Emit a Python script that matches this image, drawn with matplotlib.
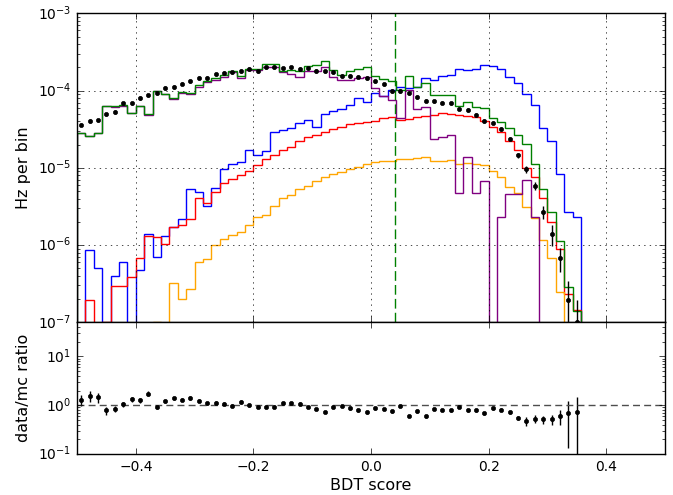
import numpy as np
import matplotlib
matplotlib.use("Agg")
import matplotlib.pyplot as plt

plt.style.use('classic')
plt.rcParams['font.family'] = ['DejaVu Sans']
plt.rcParams['figure.facecolor'] = 'white'
plt.rcParams['savefig.facecolor'] = 'white'
plt.rcParams['xtick.labelsize'] = 10
plt.rcParams['ytick.labelsize'] = 10
plt.rcParams['axes.labelsize'] = 11.5

# 70 bins of BDT score between -0.5 and 0.5
nbins = 70
edges = np.linspace(-0.5, 0.5, nbins + 1)
centers = 0.5 * (edges[:-1] + edges[1:])

# total mc (green)
total_mc = [2.79e-5, 2.57e-5, 2.82e-5, 6.35e-5, 6.22e-5, 6.41e-5, 5.15e-5, 6.35e-5, 5.01e-5, 1.00e-4,
            9.00e-5, 8.05e-5, 9.44e-5, 9.27e-5, 1.175e-4, 1.337e-4, 1.435e-4, 1.585e-4, 1.766e-4, 1.55e-4,
            1.93e-4, 1.93e-4, 2.18e-4, 2.18e-4, 1.78e-4, 1.84e-4, 1.78e-4, 2.10e-4, 2.15e-4, 2.43e-4,
            1.87e-4, 1.58e-4, 1.78e-4, 1.93e-4, 2.03e-4, 1.53e-4, 1.43e-4, 1.32e-4, 1.02e-4, 1.54e-4,
            1.10e-4, 1.24e-4, 8.73e-5, 8.73e-5, 8.73e-5, 6.28e-5, 7.14e-5, 6.04e-5, 5.86e-5, 4.44e-5,
            3.94e-5, 3.30e-5, 2.65e-5, 2.03e-5, 1.12e-5, 5.25e-6, 2.70e-6, 1.14e-6, 2.83e-7, 1.40e-7,
            0, 0, 0, 0, 0, 0, 0, 0, 0, 0]

# purple component
purple_mc = [2.79e-5, 2.55e-5, 2.82e-5, 6.34e-5, 6.19e-5, 6.38e-5, 5.11e-5, 6.28e-5, 4.88e-5, 9.87e-5,
             8.90e-5, 7.85e-5, 9.24e-5, 9.03e-5, 1.128e-4, 1.295e-4, 1.377e-4, 1.51e-4, 1.73e-4, 1.46e-4,
             1.84e-4, 1.87e-4, 2.03e-4, 2.00e-4, 1.73e-4, 1.63e-4, 1.51e-4, 1.80e-4, 1.78e-4, 2.03e-4,
             1.51e-4, 1.39e-4, 1.36e-4, 1.45e-4, 1.51e-4, 1.064e-4, 8.51e-5, 7.52e-5, 4.37e-5, 1.014e-4,
             5.70e-5, 6.17e-5, 2.34e-5, 2.52e-5, 2.63e-5, 4.67e-6, 1.39e-5, 4.67e-6, 6.81e-6, 0,
             2.33e-6, 4.53e-6, 4.53e-6, 6.93e-6, 2.28e-6, 0, 0, 0, 0, 0,
             0, 0, 0, 0, 0, 0, 0, 0, 0, 0]

# blue (signal)
blue_mc = [0, 8.63e-7, 5.01e-7, 0, 4.02e-7, 6.10e-7, 0, 4.75e-7, 1.40e-6, 6.93e-7,
           1.32e-6, 1.73e-6, 2.17e-6, 5.36e-6, 4.85e-6, 3.20e-6, 5.47e-6, 9.53e-6, 1.117e-5, 1.197e-5,
           1.68e-5, 1.476e-5, 1.63e-5, 2.93e-5, 3.05e-5, 3.24e-5, 3.75e-5, 4.14e-5, 3.40e-5, 5.01e-5,
           5.47e-5, 5.69e-5, 6.41e-5, 8.05e-5, 7.16e-5, 9.35e-5, 8.51e-5, 1.014e-4, 1.10e-4, 1.064e-4,
           1.10e-4, 1.435e-4, 1.365e-4, 1.55e-4, 1.61e-4, 1.875e-4, 1.84e-4, 1.875e-4, 2.17e-4, 2.09e-4,
           1.93e-4, 1.51e-4, 1.236e-4, 9.00e-5, 6.55e-5, 3.29e-5, 2.21e-5, 8.20e-6, 2.65e-6, 2.33e-6,
           0, 0, 0, 0, 0, 0, 0, 0, 0, 0]

# red component
red_mc = [0, 1.93e-7, 0, 1.02e-7, 2.98e-7, 2.95e-7, 3.90e-7, 6.73e-7, 1.30e-6, 1.28e-6,
          1.03e-6, 1.71e-6, 1.82e-6, 2.17e-6, 4.06e-6, 3.50e-6, 4.85e-6, 6.31e-6, 7.23e-6, 7.98e-6,
          9.00e-6, 1.074e-5, 1.285e-5, 1.445e-5, 1.694e-5, 1.837e-5, 2.24e-5, 2.52e-5, 2.68e-5, 2.90e-5,
          3.14e-5, 3.40e-5, 3.68e-5, 3.83e-5, 3.91e-5, 4.03e-5, 4.37e-5, 4.49e-5, 4.14e-5, 4.23e-5,
          4.49e-5, 4.68e-5, 4.86e-5, 5.06e-5, 4.95e-5, 4.81e-5, 4.68e-5, 4.49e-5, 4.03e-5, 3.40e-5,
          2.93e-5, 2.24e-5, 1.69e-5, 9.80e-6, 7.50e-6, 4.02e-6, 2.00e-6, 8.80e-7, 2.33e-7, 1.45e-7,
          0, 0, 0, 0, 0, 0, 0, 0, 0, 0]

# orange component
orange_mc = [0, 0, 0, 0, 0, 0, 0, 0, 0, 1.01e-7,
             0, 3.26e-7, 2.00e-7, 2.73e-7, 6.03e-7, 6.67e-7, 1.01e-6, 1.21e-6, 1.36e-6, 1.476e-6,
             1.83e-6, 2.33e-6, 2.47e-6, 3.16e-6, 4.02e-6, 4.40e-6, 5.36e-6, 5.86e-6, 6.67e-6, 7.66e-6,
             8.22e-6, 8.89e-6, 9.64e-6, 1.033e-5, 1.117e-5, 1.197e-5, 1.233e-5, 1.233e-5, 1.285e-5, 1.31e-5,
             1.337e-5, 1.36e-5, 1.21e-5, 1.22e-5, 1.26e-5, 1.117e-5, 1.164e-5, 1.13e-5, 1.096e-5, 9.16e-6,
             7.52e-6, 5.62e-6, 4.75e-6, 3.13e-6, 2.21e-6, 1.16e-6, 6.73e-7, 2.50e-7, 0, 0,
             0, 0, 0, 0, 0, 0, 0, 0, 0, 0]

# data rate, first 60 bins
data_rate = [3.61e-5, 4.03e-5, 4.10e-5, 4.95e-5, 5.31e-5, 6.81e-5, 6.81e-5, 8.05e-5, 8.65e-5, 9.27e-5,
             1.086e-4, 1.11e-4, 1.225e-4, 1.318e-4, 1.455e-4, 1.455e-4, 1.62e-4, 1.70e-4, 1.73e-4, 1.80e-4,
             1.91e-4, 1.78e-4, 2.01e-4, 2.03e-4, 1.95e-4, 2.01e-4, 1.91e-4, 1.95e-4, 1.80e-4, 1.78e-4,
             1.73e-4, 1.54e-4, 1.54e-4, 1.51e-4, 1.45e-4, 1.32e-4, 1.20e-4, 9.93e-5, 9.93e-5, 9.35e-5,
             8.22e-5, 7.38e-5, 7.29e-5, 6.95e-5, 6.81e-5, 5.81e-5, 5.58e-5, 4.81e-5, 4.06e-5, 3.83e-5,
             3.20e-5, 2.38e-5, 1.445e-5, 9.53e-6, 5.86e-6, 2.70e-6, 1.39e-6, 6.87e-7, 1.95e-7, 1.00e-7]

# relative errors on data (top) and on the ratio (bottom)
data_relerr = [0.05, 0.05, 0.05, 0.05, 0.05, 0.05, 0.05, 0.05, 0.05, 0.05,
               0.05, 0.05, 0.05, 0.05, 0.05, 0.05, 0.05, 0.05, 0.05, 0.05,
               0.05, 0.05, 0.05, 0.05, 0.05, 0.05, 0.05, 0.05, 0.05, 0.05,
               0.05, 0.05, 0.05, 0.05, 0.05, 0.05, 0.05, 0.05, 0.05, 0.05,
               0.05, 0.05, 0.05, 0.05, 0.05, 0.05, 0.05, 0.05, 0.05, 0.05,
               0.05, 0.05, 0.08, 0.11, 0.12, 0.20, 0.30, 0.35, 0.75, 0.95]
ratio_relerr = [0.25, 0.25, 0.25, 0.20, 0.15, 0.12, 0.12, 0.12, 0.12, 0.08,
                0.08, 0.08, 0.08, 0.08, 0.08, 0.08, 0.08, 0.08, 0.08, 0.08,
                0.08, 0.06, 0.06, 0.06, 0.06, 0.06, 0.06, 0.06, 0.06, 0.06,
                0.06, 0.06, 0.06, 0.06, 0.06, 0.06, 0.06, 0.06, 0.06, 0.06,
                0.06, 0.06, 0.06, 0.06, 0.06, 0.06, 0.07, 0.07, 0.07, 0.07,
                0.07, 0.07, 0.10, 0.20, 0.18, 0.18, 0.25, 0.35, 0.81, 1.10]

bdt_cut = 0.04

data_rate = np.array(data_rate)
ndata = len(data_rate)
ratio = data_rate / np.array(total_mc[:ndata])

fig = plt.figure(figsize=(6.73, 4.95), dpi=100)
ax1 = fig.add_axes([0.1144, 0.3489, 0.8737, 0.6242])
ax2 = fig.add_axes([0.1144, 0.0828, 0.8737, 0.2661])

# top panel: rates
for vals, col in [(blue_mc, 'b'), (red_mc, 'r'), (orange_mc, 'orange'),
                  (purple_mc, 'purple'), (total_mc, 'g')]:
    ax1.stairs(vals, edges, color=col, lw=1)
ax1.errorbar(centers[:ndata], data_rate, yerr=data_rate * np.array(data_relerr),
             fmt='o', color='k', mec='k', ms=3, capsize=0, elinewidth=1)
ax1.axvline(bdt_cut, color='g', ls='--', dashes=(7, 3), lw=1)
ax1.set_yscale('log')
ax1.set_ylim(1e-7, 1e-3)
ax1.set_xlim(-0.5, 0.5)
ax1.set_xticks([-0.4, -0.2, 0.0, 0.2, 0.4])
ax1.tick_params(labelbottom=False)
ax1.grid(True)
ax1.set_ylabel('Hz per bin')

# bottom panel: data/mc
ax2.errorbar(centers[:ndata], ratio, yerr=ratio * np.array(ratio_relerr),
             fmt='o', color='k', mec='k', ms=3, capsize=0, elinewidth=1)
ax2.axhline(1.0, color='0.3', ls='--', dashes=(5, 3), lw=1)
ax2.set_yscale('log')
ax2.set_ylim(0.1, 50)
ax2.set_xlim(-0.5, 0.5)
ax2.set_xticks([-0.4, -0.2, 0.0, 0.2, 0.4])
ax2.set_ylabel('data/mc ratio')
ax2.set_xlabel('BDT score', labelpad=3)

fig.savefig('out.png', dpi=100)
